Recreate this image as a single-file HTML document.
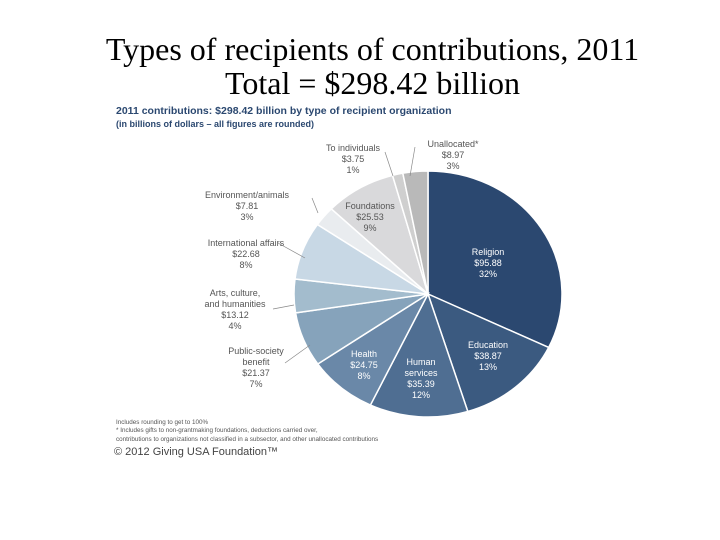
<!DOCTYPE html>
<html><head><meta charset="utf-8"><style>
body{margin:0;width:720px;height:540px;background:#fff;overflow:hidden;position:relative;font-family:"Liberation Sans",sans-serif}
.t{position:absolute;left:0;width:745px;text-align:center;font-family:"Liberation Serif",serif;font-size:32px;color:#000;white-space:nowrap}
</style></head><body>
<div class="t" style="top:31px">Types of recipients of contributions, 2011</div>
<div class="t" style="top:65px">Total = $298.42 billion</div>
<svg width="720" height="540" style="position:absolute;left:0;top:0">
<text x="116" y="114" font-size="10.5" font-weight="bold" fill="#2b4870">2011 contributions: $298.42 billion by type of recipient organization</text>
<text x="116" y="127" font-size="9" font-weight="bold" fill="#2b4870">(in billions of dollars – all figures are rounded)</text>
<g id="slices"></g>
<g id="labels" font-size="9" text-anchor="middle"></g>
<text x="116" y="424" font-size="6.3" fill="#555">Includes rounding to get to 100%</text>
<text x="116" y="432" font-size="6.3" fill="#555">* Includes gifts to non-grantmaking foundations, deductions carried over,</text>
<text x="116" y="441" font-size="6.3" fill="#555">contributions to organizations not classified in a subsector, and other unallocated contributions</text>
<text x="114" y="455" font-size="11" fill="#444">© 2012 Giving USA Foundation™</text>
</svg>
<script>
const categories=["Religion","Education","Human services","Health","Public-society benefit","Arts, culture, and humanities","International affairs","Environment/animals","Foundations","To individuals","Unallocated*"];
const values=[95.88,38.87,35.39,24.75,21.37,13.12,22.68,7.81,25.53,3.75,8.97];
const pcts=["32%","13%","12%","8%","7%","4%","8%","3%","9%","1%","3%"];
const colors=["#2b4870","#3b5a80","#4f6e92","#6a88a8","#86a3bb","#a3bccd","#c8d8e5","#e9ecef","#d9d9db","#cfcfcf","#b9b9b9"];
const cx=428,cy=294,RX=134,RY=123;
const total=values.reduce((a,b)=>a+b,0);
const NS="http://www.w3.org/2000/svg";
const g=document.getElementById('slices'),lg=document.getElementById('labels');
const labelPos=[[488,255,1],[488,348,1],[421,365,1],[364,357,1],[256,354,0],[235,296,0],[246,246,0],[247,198,0],[370,209,0],[353,151,0],[453,147,0]];
const lineLeft=[null,null,null,null,[285,363,310,345],[273,309,294,305],[278,243,305,258],[312,198,318,213],null,[385,152,393,176],[415,147,410,176]];
let a=0;
values.forEach((v,i)=>{
  const a0=a,a1=a+v/total*2*Math.PI;a=a1;
  const p=t=>[cx+RX*Math.sin(t),cy-RY*Math.cos(t)];
  const [x0,y0]=p(a0),[x1,y1]=p(a1);
  const path=document.createElementNS(NS,'path');
  path.setAttribute('d',`M${cx},${cy}L${x0},${y0}A${RX},${RY} 0 ${a1-a0>Math.PI?1:0} 1 ${x1},${y1}Z`);
  path.setAttribute('fill',colors[i]);path.setAttribute('stroke','#fff');path.setAttribute('stroke-width','1.5');
  
  
  g.appendChild(path);
  const [lx,ly,inside]=labelPos[i];
  const fill=inside&&i<4?"#fff":"#555";
  const lines=(i===2?["Human","services"]:i===4?["Public-society","benefit"]:i===5?["Arts, culture,","and humanities"]:[categories[i]]).concat(["$"+values[i].toFixed(2),pcts[i]]);
  const t=document.createElementNS(NS,'text');
  t.setAttribute('fill',fill);
  
  
  lines.forEach((s,k)=>{const ts=document.createElementNS(NS,'tspan');ts.setAttribute('x',lx);ts.setAttribute('y',ly+k*11);ts.textContent=s;t.appendChild(ts);});
  lg.appendChild(t);
  if(lineLeft[i]){const l=document.createElementNS(NS,'line');const q=lineLeft[i];
    l.setAttribute('x1',q[0]);l.setAttribute('y1',q[1]);l.setAttribute('x2',q[2]);l.setAttribute('y2',q[3]);l.setAttribute('stroke','#888');l.setAttribute('stroke-width','0.7');
    
    
    lg.appendChild(l);}
});
</script>
</body></html>
